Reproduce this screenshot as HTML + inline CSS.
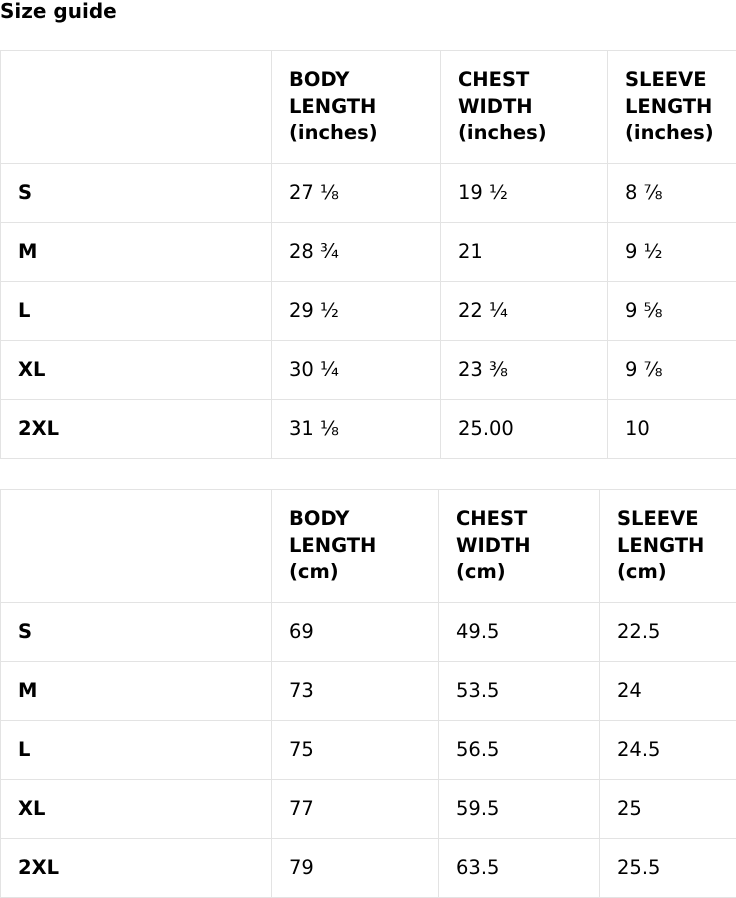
<!DOCTYPE html>
<html><head><meta charset="utf-8"><style>
body{margin:0;width:736px;height:898px;background:#fff;font-family:"DejaVu Sans","Liberation Sans",sans-serif;color:#000;overflow:hidden;position:relative}
h1{position:absolute;left:0;top:0;margin:0;font-size:20px;font-weight:bold;line-height:22px}
table{position:absolute;left:0;width:736px;border-collapse:collapse;table-layout:fixed;font-size:19.5px}
td,th{border:1px solid #e3e3e3;padding:0 0 0 17px;text-align:left;vertical-align:middle;line-height:26.5px;white-space:nowrap;overflow:hidden}
th{font-weight:bold;height:112px}
td{height:58px}
td:first-child{font-weight:bold}
</style></head><body>
<h1>Size guide</h1>
<table style="top:50px">
<colgroup><col style="width:271px"><col style="width:169px"><col style="width:167px"><col style="width:129px"></colgroup>
<tr><th></th><th>BODY<br>LENGTH<br>(inches)</th><th>CHEST<br>WIDTH<br>(inches)</th><th>SLEEVE<br>LENGTH<br>(inches)</th></tr>
<tr><td>S</td><td>27 ⅛</td><td>19 ½</td><td>8 ⅞</td></tr>
<tr><td>M</td><td>28 ¾</td><td>21</td><td>9 ½</td></tr>
<tr><td>L</td><td>29 ½</td><td>22 ¼</td><td>9 ⅝</td></tr>
<tr><td>XL</td><td>30 ¼</td><td>23 ⅜</td><td>9 ⅞</td></tr>
<tr><td>2XL</td><td>31 ⅛</td><td>25.00</td><td>10</td></tr>
</table>
<table style="top:489px">
<colgroup><col style="width:271px"><col style="width:167px"><col style="width:161px"><col style="width:137px"></colgroup>
<tr><th></th><th>BODY<br>LENGTH<br>(cm)</th><th>CHEST<br>WIDTH<br>(cm)</th><th>SLEEVE<br>LENGTH<br>(cm)</th></tr>
<tr><td>S</td><td>69</td><td>49.5</td><td>22.5</td></tr>
<tr><td>M</td><td>73</td><td>53.5</td><td>24</td></tr>
<tr><td>L</td><td>75</td><td>56.5</td><td>24.5</td></tr>
<tr><td>XL</td><td>77</td><td>59.5</td><td>25</td></tr>
<tr><td>2XL</td><td>79</td><td>63.5</td><td>25.5</td></tr>
</table>
</body></html>
